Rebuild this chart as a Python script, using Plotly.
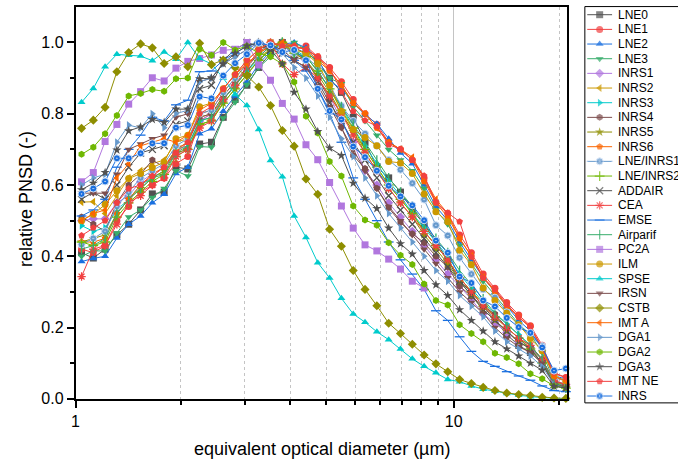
import math
import plotly.graph_objects as go

# ---------------- data ----------------
diameter_um = [1.037, 1.114, 1.197, 1.286, 1.382, 1.486, 1.596, 1.715, 1.843, 1.981,
               2.129, 2.288, 2.458, 2.642, 2.839, 3.051, 3.278, 3.523, 3.786, 4.068,
               4.371, 4.698, 5.048, 5.425, 5.829, 6.264, 6.732, 7.234, 7.774, 8.354,
               8.977, 9.647, 10.37, 11.14, 11.97, 12.86, 13.82, 14.86, 15.96, 17.15,
               18.43, 19.81]

LNE0 = [0.41, 0.395, 0.42, 0.46, 0.49, 0.53, 0.575, 0.58, 0.65, 0.645, 0.715, 0.72, 0.79, 0.84, 0.88, 0.93, 0.97, 1.0, 0.985, 0.97,
        0.95, 0.90, 0.86, 0.79, 0.72, 0.65, 0.62, 0.58, 0.53, 0.49, 0.44, 0.39, 0.33, 0.30, 0.26, 0.22, 0.18, 0.15, 0.13, 0.10, 0.045, 0.04]
LNE1 = [0.42, 0.41, 0.43, 0.50, 0.54, 0.58, 0.60, 0.62, 0.66, 0.68, 0.78, 0.80, 0.84, 0.88, 0.92, 0.96, 0.99, 1.0, 0.98, 0.99,
        0.96, 0.93, 0.89, 0.84, 0.80, 0.77, 0.72, 0.70, 0.67, 0.62, 0.55, 0.52, 0.46, 0.41, 0.35, 0.31, 0.27, 0.235, 0.205, 0.15, 0.07, 0.06]
LNE2 = [0.385, 0.394, 0.40, 0.451, 0.49, 0.513, 0.55, 0.574, 0.632, 0.65, 0.744, 0.758, 0.807, 0.85, 0.889, 0.94, 0.975, 0.995, 1.0, 0.985,
        0.955, 0.891, 0.87, 0.831, 0.797, 0.772, 0.73, 0.69, 0.66, 0.60, 0.54, 0.50, 0.44, 0.39, 0.34, 0.30, 0.26, 0.22, 0.19, 0.14, 0.065, 0.055]
LNE3 = [0.40, 0.415, 0.415, 0.465, 0.51, 0.53, 0.565, 0.59, 0.64, 0.625, 0.708, 0.706, 0.788, 0.832, 0.882, 0.93, 0.96, 0.98, 1.0, 0.98,
        0.94, 0.90, 0.884, 0.82, 0.78, 0.74, 0.70, 0.67, 0.64, 0.59, 0.53, 0.49, 0.43, 0.38, 0.33, 0.29, 0.25, 0.21, 0.18, 0.13, 0.05, 0.04]
INRS1 = [0.50, 0.505, 0.505, 0.55, 0.57, 0.61, 0.63, 0.65, 0.69, 0.70, 0.78, 0.80, 0.84, 0.88, 0.92, 0.96, 0.99, 1.0, 0.97, 0.95,
         0.90, 0.85, 0.78, 0.72, 0.64, 0.60, 0.55, 0.51, 0.47, 0.43, 0.39, 0.35, 0.316, 0.279, 0.238, 0.212, 0.186, 0.16, 0.144, 0.11, 0.05, 0.04]
INRS2 = [0.552, 0.553, 0.52, 0.57, 0.62, 0.64, 0.66, 0.67, 0.72, 0.73, 0.79, 0.80, 0.84, 0.88, 0.92, 0.96, 0.98, 1.0, 0.97, 0.95,
         0.90, 0.85, 0.80, 0.75, 0.70, 0.65, 0.60, 0.56, 0.52, 0.47, 0.43, 0.39, 0.34, 0.30, 0.27, 0.23, 0.20, 0.17, 0.15, 0.11, 0.045, 0.04]
INRS3 = [0.486, 0.47, 0.48, 0.53, 0.56, 0.60, 0.62, 0.64, 0.70, 0.71, 0.78, 0.79, 0.84, 0.88, 0.92, 0.95, 0.98, 1.0, 0.98, 0.96,
         0.92, 0.87, 0.82, 0.76, 0.71, 0.66, 0.61, 0.57, 0.52, 0.48, 0.44, 0.40, 0.35, 0.31, 0.27, 0.24, 0.21, 0.18, 0.15, 0.11, 0.04, 0.03]
INRS4 = [0.51, 0.49, 0.47, 0.55, 0.60, 0.63, 0.67, 0.65, 0.70, 0.72, 0.79, 0.80, 0.85, 0.89, 0.93, 0.97, 0.99, 1.0, 0.96, 0.95,
         0.90, 0.84, 0.762, 0.683, 0.646, 0.591, 0.536, 0.495, 0.463, 0.438, 0.40, 0.37, 0.316, 0.288, 0.26, 0.238, 0.20, 0.17, 0.142, 0.11, 0.05, 0.04]
INRS5 = [0.44, 0.45, 0.46, 0.52, 0.56, 0.59, 0.62, 0.64, 0.69, 0.70, 0.77, 0.78, 0.83, 0.87, 0.91, 0.95, 0.98, 1.0, 0.97, 0.95,
         0.91, 0.86, 0.80, 0.75, 0.69, 0.64, 0.59, 0.55, 0.51, 0.46, 0.42, 0.38, 0.33, 0.29, 0.25, 0.22, 0.19, 0.16, 0.14, 0.10, 0.04, 0.03]
INRS6 = [0.44, 0.44, 0.45, 0.52, 0.56, 0.60, 0.63, 0.65, 0.70, 0.72, 0.80, 0.81, 0.86, 0.90, 0.94, 0.97, 1.0, 0.99, 0.99, 0.98,
         0.95, 0.92, 0.88, 0.83, 0.80, 0.76, 0.72, 0.70, 0.67, 0.61, 0.55, 0.51, 0.45, 0.40, 0.34, 0.30, 0.26, 0.23, 0.20, 0.14, 0.06, 0.05]
LNE_INRS1 = [0.433, 0.45, 0.47, 0.54, 0.58, 0.62, 0.64, 0.66, 0.71, 0.73, 0.80, 0.81, 0.86, 0.90, 0.94, 0.97, 1.0, 0.99, 0.97, 0.96,
             0.93, 0.88, 0.822, 0.78, 0.744, 0.71, 0.67, 0.643, 0.605, 0.559, 0.487, 0.458, 0.396, 0.35, 0.307, 0.284, 0.243, 0.206, 0.178, 0.148, 0.06, 0.05]
LNE_INRS2 = [0.44, 0.43, 0.44, 0.51, 0.55, 0.58, 0.61, 0.63, 0.68, 0.70, 0.77, 0.78, 0.83, 0.87, 0.91, 0.95, 0.98, 1.0, 0.97, 0.96,
             0.92, 0.87, 0.81, 0.76, 0.70, 0.65, 0.60, 0.56, 0.52, 0.47, 0.43, 0.39, 0.34, 0.30, 0.26, 0.23, 0.20, 0.17, 0.14, 0.10, 0.04, 0.03]
ADDAIR = [0.56, 0.58, 0.56, 0.60, 0.65, 0.69, 0.70, 0.71, 0.77, 0.78, 0.87, 0.88, 0.95, 0.98, 1.0, 0.99, 0.98, 0.97, 0.95, 0.93,
          0.89, 0.83, 0.78, 0.72, 0.67, 0.62, 0.57, 0.53, 0.49, 0.45, 0.41, 0.37, 0.33, 0.29, 0.25, 0.22, 0.19, 0.16, 0.14, 0.10, 0.04, 0.03]
CEA = [0.343, 0.42, 0.43, 0.49, 0.55, 0.57, 0.60, 0.62, 0.68, 0.70, 0.76, 0.78, 0.84, 0.88, 0.93, 0.98, 1.0, 0.94, 0.91, 0.93,
       0.90, 0.85, 0.80, 0.74, 0.69, 0.64, 0.59, 0.55, 0.51, 0.47, 0.43, 0.39, 0.34, 0.30, 0.26, 0.23, 0.20, 0.17, 0.15, 0.11, 0.05, 0.04]
EMSE = [0.513, 0.53, 0.56, 0.65, 0.70, 0.74, 0.79, 0.78, 0.825, 0.838, 0.918, 0.92, 0.95, 0.97, 0.99, 1.0, 0.99, 0.97, 0.95, 0.92,
        0.87, 0.80, 0.72, 0.62, 0.56, 0.50, 0.44, 0.39, 0.35, 0.307, 0.247, 0.22, 0.174, 0.133, 0.105, 0.091, 0.076, 0.064, 0.052, 0.036, 0.023, 0.02]
Airparif = [0.42, 0.43, 0.45, 0.52, 0.56, 0.59, 0.62, 0.63, 0.69, 0.71, 0.78, 0.79, 0.84, 0.88, 0.92, 0.96, 0.99, 1.0, 0.97, 0.96,
            0.92, 0.87, 0.82, 0.77, 0.72, 0.67, 0.62, 0.58, 0.54, 0.49, 0.45, 0.41, 0.36, 0.32, 0.28, 0.24, 0.21, 0.18, 0.15, 0.11, 0.045, 0.035]
PC2A = [0.609, 0.635, 0.722, 0.770, 0.827, 0.862, 0.901, 0.892, 0.928, 0.947, 0.955, 0.965, 0.978, 0.981, 1.0, 0.937, 0.894, 0.829, 0.785, 0.713,
        0.671, 0.607, 0.541, 0.479, 0.432, 0.415, 0.392, 0.364, 0.330, 0.311]
ILM = [0.50, 0.518, 0.545, 0.584, 0.618, 0.632, 0.649, 0.664, 0.73, 0.74, 0.82, 0.83, 0.87, 0.91, 0.95, 0.98, 1.0, 0.99, 0.98, 0.97,
       0.94, 0.88, 0.807, 0.756, 0.733, 0.710, 0.666, 0.662, 0.632, 0.575, 0.525, 0.497, 0.417, 0.376, 0.311, 0.276, 0.240, 0.208, 0.169, 0.135, 0.065, 0.05]
SPSE = [0.832, 0.871, 0.932, 0.967, 0.964, 0.962, 0.949, 0.973, 0.953, 1.0, 0.955, 0.94, 0.90, 0.854, 0.823, 0.756, 0.669, 0.623, 0.513, 0.453,
        0.382, 0.339, 0.282, 0.238, 0.215, 0.188, 0.166, 0.140, 0.112, 0.091, 0.073, 0.054, 0.048, 0.036, 0.027, 0.021, 0.015, 0.010, 0.006, 0.003, 0.001, 0.0]
IRSN = [0.577, 0.577, 0.577, 0.63, 0.70, 0.715, 0.73, 0.74, 0.79, 0.80, 0.89, 0.90, 0.94, 0.96, 0.98, 1.0, 0.99, 0.98, 0.95, 0.93,
        0.88, 0.82, 0.76, 0.70, 0.64, 0.59, 0.54, 0.50, 0.46, 0.42, 0.38, 0.34, 0.30, 0.27, 0.24, 0.20, 0.17, 0.146, 0.13, 0.10, 0.04, 0.035]
CSTB = [0.759, 0.782, 0.818, 0.918, 0.972, 0.996, 0.985, 0.941, 0.96, 0.932, 0.998, 0.938, 0.951, 0.93, 0.907, 0.875, 0.823, 0.753, 0.709, 0.617,
        0.574, 0.476, 0.428, 0.36, 0.307, 0.261, 0.212, 0.183, 0.153, 0.123, 0.098, 0.076, 0.054, 0.043, 0.032, 0.023, 0.016, 0.012, 0.009, 0.004, 0.002, 0.001]
IMT_A = [0.50, 0.52, 0.53, 0.62, 0.66, 0.71, 0.72, 0.73, 0.72, 0.74, 0.81, 0.83, 0.87, 0.91, 0.94, 0.97, 0.99, 1.0, 0.99, 0.98,
         0.96, 0.92, 0.88, 0.83, 0.80, 0.76, 0.72, 0.70, 0.678, 0.62, 0.56, 0.52, 0.449, 0.401, 0.341, 0.304, 0.263, 0.229, 0.201, 0.142, 0.063, 0.05]
DGA1 = [0.60, 0.62, 0.63, 0.72, 0.768, 0.76, 0.80, 0.761, 0.80, 0.81, 0.89, 0.90, 0.94, 0.96, 0.98, 1.0, 0.99, 0.97, 0.93, 0.90,
        0.85, 0.79, 0.73, 0.68, 0.62, 0.57, 0.52, 0.48, 0.44, 0.40, 0.36, 0.33, 0.29, 0.26, 0.23, 0.19, 0.16, 0.14, 0.12, 0.09, 0.04, 0.03]
DGA2 = [0.686, 0.706, 0.744, 0.795, 0.85, 0.857, 0.868, 0.863, 0.898, 0.90, 0.981, 0.964, 1.0, 0.979, 0.99, 0.97, 0.96, 0.94, 0.889, 0.793,
        0.746, 0.666, 0.625, 0.541, 0.502, 0.487, 0.438, 0.403, 0.377, 0.322, 0.276, 0.263, 0.208, 0.183, 0.160, 0.128, 0.116, 0.098, 0.070, 0.056, 0.036, 0.03]
DGA3 = [0.587, 0.605, 0.635, 0.698, 0.752, 0.763, 0.784, 0.776, 0.813, 0.813, 0.898, 0.90, 0.94, 0.97, 0.99, 1.0, 0.98, 0.94, 0.86, 0.813,
        0.75, 0.704, 0.683, 0.605, 0.563, 0.534, 0.479, 0.435, 0.406, 0.36, 0.32, 0.29, 0.25, 0.22, 0.19, 0.16, 0.14, 0.12, 0.10, 0.08, 0.035, 0.03]
IMT_NE = [0.458, 0.48, 0.50, 0.55, 0.59, 0.60, 0.625, 0.65, 0.69, 0.72, 0.80, 0.82, 0.87, 0.91, 0.95, 0.98, 1.0, 0.99, 0.99, 0.98,
          0.96, 0.93, 0.862, 0.807, 0.781, 0.765, 0.713, 0.701, 0.67, 0.626, 0.552, 0.522, 0.497, 0.398, 0.339, 0.307, 0.265, 0.229, 0.201, 0.142, 0.073, 0.06]
INRS = [0.575, 0.59, 0.61, 0.675, 0.675, 0.689, 0.717, 0.717, 0.761, 0.768, 0.848, 0.843, 0.907, 0.942, 0.967, 0.999, 0.992, 0.973, 0.979, 0.95,
        0.87, 0.808, 0.784, 0.708, 0.678, 0.64, 0.598, 0.568, 0.543, 0.501, 0.444, 0.41, 0.343, 0.325, 0.276, 0.259, 0.227, 0.201, 0.185, 0.144, 0.079, 0.085]

series_names = ["LNE0", "LNE1", "LNE2", "LNE3", "INRS1", "INRS2", "INRS3", "INRS4", "INRS5", "INRS6",
                "LNE/INRS1", "LNE/INRS2", "ADDAIR", "CEA", "EMSE", "Airparif", "PC2A", "ILM", "SPSE",
                "IRSN", "CSTB", "IMT A", "DGA1", "DGA2", "DGA3", "IMT NE", "INRS"]
series_values = [LNE0, LNE1, LNE2, LNE3, INRS1, INRS2, INRS3, INRS4, INRS5, INRS6,
                 LNE_INRS1, LNE_INRS2, ADDAIR, CEA, EMSE, Airparif, PC2A, ILM, SPSE,
                 IRSN, CSTB, IMT_A, DGA1, DGA2, DGA3, IMT_NE, INRS]

x_tick_vals = [1, 10]
x_minor_vals = [1.9, 2.8, 3.7, 4.6, 5.5, 6.4, 7.3, 8.2, 9.1, 19]
y_tick_vals = [0.0, 0.2, 0.4, 0.6, 0.8, 1.0]
y_minor_vals = [0.1, 0.3, 0.5, 0.7, 0.9]

# ---------------- styles ----------------
PALETTE = ["#515151", "#F14040", "#1A6FDF", "#37AD6B", "#B177DE", "#CC9900",
           "#00CBCC", "#7D4E4E", "#8E8E00", "#FB6501", "#6699CC", "#6FB802"]
SYMBOLS = ["square", "circle", "triangle-up", "triangle-down", "diamond", "triangle-left",
           "triangle-right", "hexagon", "star", "pentagon", "circle-dot", "cross-thin",
           "x-thin", "asterisk", "line-ew", "line-ns"]
STROKE_ONLY = {"cross-thin", "x-thin", "asterisk", "line-ew", "line-ns"}
FONT = "Arial, 'Liberation Sans', Helvetica, sans-serif"
W, H = 678, 473
PLOT_L, PLOT_R, PLOT_T, PLOT_B = 72, 566.8, 7, 406.5
LEG_L, LEG_T, LEG_B = 584.3, 6.7, 410.7
LEG_ROW0, LEG_ROW = 15.0, 14.95
MSIZE = 7


def marker_style(i, size):
    sym = SYMBOLS[i % len(SYMBOLS)]
    col = PALETTE[i % len(PALETTE)]
    if sym in STROKE_ONLY:
        return dict(symbol=sym, size=size, color=col, line=dict(color=col, width=1.3))
    if sym == "circle-dot":
        return dict(symbol=sym, size=size, color=col, line=dict(color="#cfe0f7", width=1))
    return dict(symbol=sym, size=size, color=col, line=dict(width=0))


fig = go.Figure()
for i, (name, vals) in enumerate(zip(series_names, series_values)):
    col = PALETTE[i % len(PALETTE)]
    fig.add_trace(go.Scatter(
        x=diameter_um[:len(vals)], y=vals, name=name, mode="lines+markers",
        line=dict(color=col, width=1), marker=marker_style(i, MSIZE),
        cliponaxis=False, showlegend=False, xaxis="x", yaxis="y"))

# hand-built legend (27 entries do not fit Plotly's minimum row height)
leg_w = W - LEG_L
leg_line = [2.4, 14.9, 27.4]
for i, name in enumerate(series_names):
    col = PALETTE[i % len(PALETTE)]
    m = marker_style(i, MSIZE)
    m["size"] = [0, MSIZE, 0]
    fig.add_trace(go.Scatter(
        x=leg_line, y=[i, i, i], mode="lines+markers", line=dict(color=col, width=1),
        marker=m, showlegend=False, hoverinfo="skip", cliponaxis=False,
        xaxis="x2", yaxis="y2"))
    fig.add_annotation(x=31.0, y=i, xref="x2", yref="y2", text=name, showarrow=False,
                       xanchor="left", yanchor="middle",
                       font=dict(family=FONT, size=12, color="black"))

fig.add_shape(type="rect", xref="paper", yref="paper",
              x0=LEG_L / W, x1=1.05, y0=1 - LEG_B / H, y1=1 - LEG_T / H,
              line=dict(color="black", width=1), fillcolor="rgba(0,0,0,0)")

axis_common = dict(showline=True, linecolor="black", linewidth=1.6, mirror=True,
                   ticks="outside", tickcolor="black", tickwidth=1.5, ticklen=7,
                   zeroline=False, tickfont=dict(family=FONT, size=16, color="black"))

fig.update_layout(
    width=W, height=H, margin=dict(l=0, r=0, t=0, b=0),
    paper_bgcolor="white", plot_bgcolor="white", showlegend=False,
    font=dict(family=FONT, color="black"),
    xaxis=dict(type="log", domain=[PLOT_L / W, PLOT_R / W], range=[0, math.log10(20)],
               tickmode="array", tickvals=x_tick_vals, ticktext=[str(v) for v in x_tick_vals],
               showgrid=True, gridcolor="#c4c4c4", gridwidth=1,
               minor=dict(tickmode="array", tickvals=x_minor_vals, ticks="outside", ticklen=4,
                          tickwidth=1.5, tickcolor="black", showgrid=True,
                          gridcolor="#c4c4c4", griddash="dot", gridwidth=1),
               **axis_common),
    yaxis=dict(domain=[1 - PLOT_B / H, 1 - PLOT_T / H], range=[0, 1.1],
               tickmode="array", tickvals=y_tick_vals, ticktext=[f"{v:.1f}" for v in y_tick_vals],
               showgrid=False,
               minor=dict(tickmode="array", tickvals=y_minor_vals, ticks="outside", ticklen=4,
                          tickwidth=1.5, tickcolor="black", showgrid=False),
               **axis_common),
    xaxis2=dict(domain=[LEG_L / W, 1.0], range=[0, leg_w], visible=False, fixedrange=True),
    yaxis2=dict(domain=[1 - LEG_B / H, 1 - LEG_T / H],
                range=[(LEG_B - LEG_ROW0) / LEG_ROW, (LEG_T - LEG_ROW0) / LEG_ROW],
                visible=False, fixedrange=True, anchor="x2"),
)
fig.update_layout(xaxis2_anchor="y2")

fig.add_annotation(x=(PLOT_L + PLOT_R) / 2 / W, y=1 - 458 / H, xref="paper", yref="paper",
                   text="equivalent optical diameter (µm)", showarrow=False,
                   xanchor="center", yanchor="middle",
                   font=dict(family=FONT, size=18, color="black"))
fig.add_annotation(x=22 / W, y=1 - 203 / H, xref="paper", yref="paper",
                   text="relative PNSD (-)", showarrow=False, textangle=-90,
                   xanchor="center", yanchor="middle",
                   font=dict(family=FONT, size=18, color="black"))

# remove the browser's default 8px page margin so the figure sits at the window origin
fig.write_html("out.html", config={"displayModeBar": False},
               post_script="document.body.style.margin='0';document.body.style.padding='0';")
